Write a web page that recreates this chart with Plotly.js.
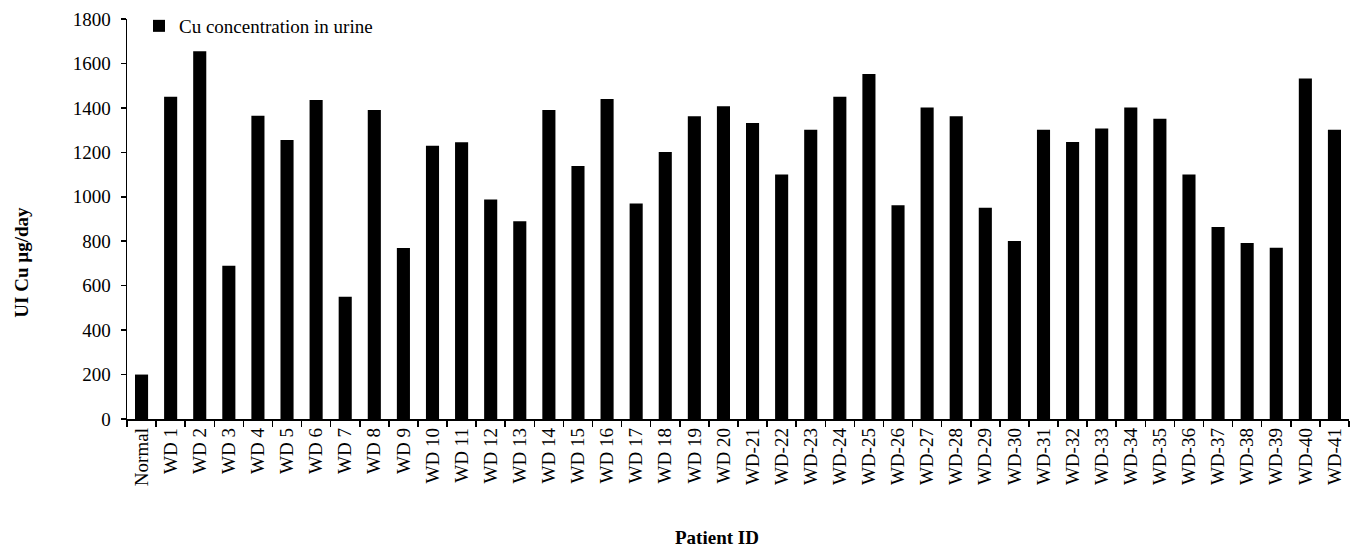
<!DOCTYPE html>
<html>
<head>
<meta charset="utf-8">
<script src="https://cdn.plot.ly/plotly-3.0.1.min.js"></script>
<style>html,body{margin:0;padding:0;background:#fff;}#chart{width:1356px;height:550px;}</style>
</head>
<body>
<div id="chart"></div>
<script>
const categories = ["Normal","WD 1","WD 2","WD 3","WD 4","WD 5","WD 6","WD 7","WD 8","WD 9","WD 10","WD 11","WD 12","WD 13","WD 14","WD 15","WD 16","WD 17","WD 18","WD 19","WD 20","WD-21","WD-22","WD-23","WD-24","WD-25","WD-26","WD-27","WD-28","WD-29","WD-30","WD-31","WD-32","WD-33","WD-34","WD-35","WD-36","WD-37","WD-38","WD-39","WD-40","WD-41"];
const cuUrine = [200,1450,1655,690,1365,1255,1435,550,1390,770,1230,1245,988,890,1390,1138,1440,970,1202,1362,1407,1332,1100,1302,1450,1552,962,1402,1362,951,801,1302,1247,1307,1402,1351,1100,864,792,771,1532,1302];
const seriesName = "Cu concentration in urine";
const yTitle = "UI Cu µg/day";
const xTitle = "Patient ID";

const font = "Liberation Serif, Times New Roman, serif";
Plotly.newPlot("chart", [{
  type: "bar",
  x: categories,
  y: cuUrine,
  name: seriesName,
  marker: {color: "#000000"},
  showlegend: true
}], {
  width: 1356, height: 550,
  margin: {l: 127, r: 7, t: 15, b: 131},
  paper_bgcolor: "#fff", plot_bgcolor: "#fff",
  font: {family: font, size: 19, color: "#000"},
  bargap: 0.55,
  showlegend: true,
  legend: {x: 0.0098, y: 1.03, xanchor: "left", yanchor: "top", bgcolor: "rgba(0,0,0,0)",
           font: {family: font, size: 19, color: "#000"}, itemwidth: 30},
  xaxis: {
    type: "category",
    tickangle: -90,
    showline: true, linecolor: "#000", linewidth: 1.5,
    ticks: "outside", ticklen: 6, tickcolor: "#000", tickwidth: 1.5,
    tickson: "boundaries",
    showgrid: false, zeroline: false,
    automargin: false,
    tickfont: {family: font, size: 19, color: "#000"}
  },
  yaxis: {
    range: [0, 1800], dtick: 200,
    showline: true, linecolor: "#000", linewidth: 1.5,
    ticks: "outside", ticklen: 5, tickcolor: "#000", tickwidth: 1.5,
    ticklabelstandoff: 6,
    showgrid: false, zeroline: false,
    automargin: false,
    tickfont: {family: font, size: 19, color: "#000"}
  },
  annotations: [
    {text: "<b>" + yTitle + "</b>", xref: "paper", yref: "paper", x: -0.0859, y: 0.391,
     xanchor: "center", yanchor: "middle", textangle: -90, showarrow: false,
     font: {family: font, size: 19, color: "#000"}},
    {text: "<b>" + xTitle + "</b>", xref: "paper", yref: "paper", x: 0.483, y: -0.297,
     xanchor: "center", yanchor: "middle", showarrow: false,
     font: {family: font, size: 19, color: "#000"}}
  ]
}, {displayModeBar: false, staticPlot: true});
</script>
</body>
</html>
